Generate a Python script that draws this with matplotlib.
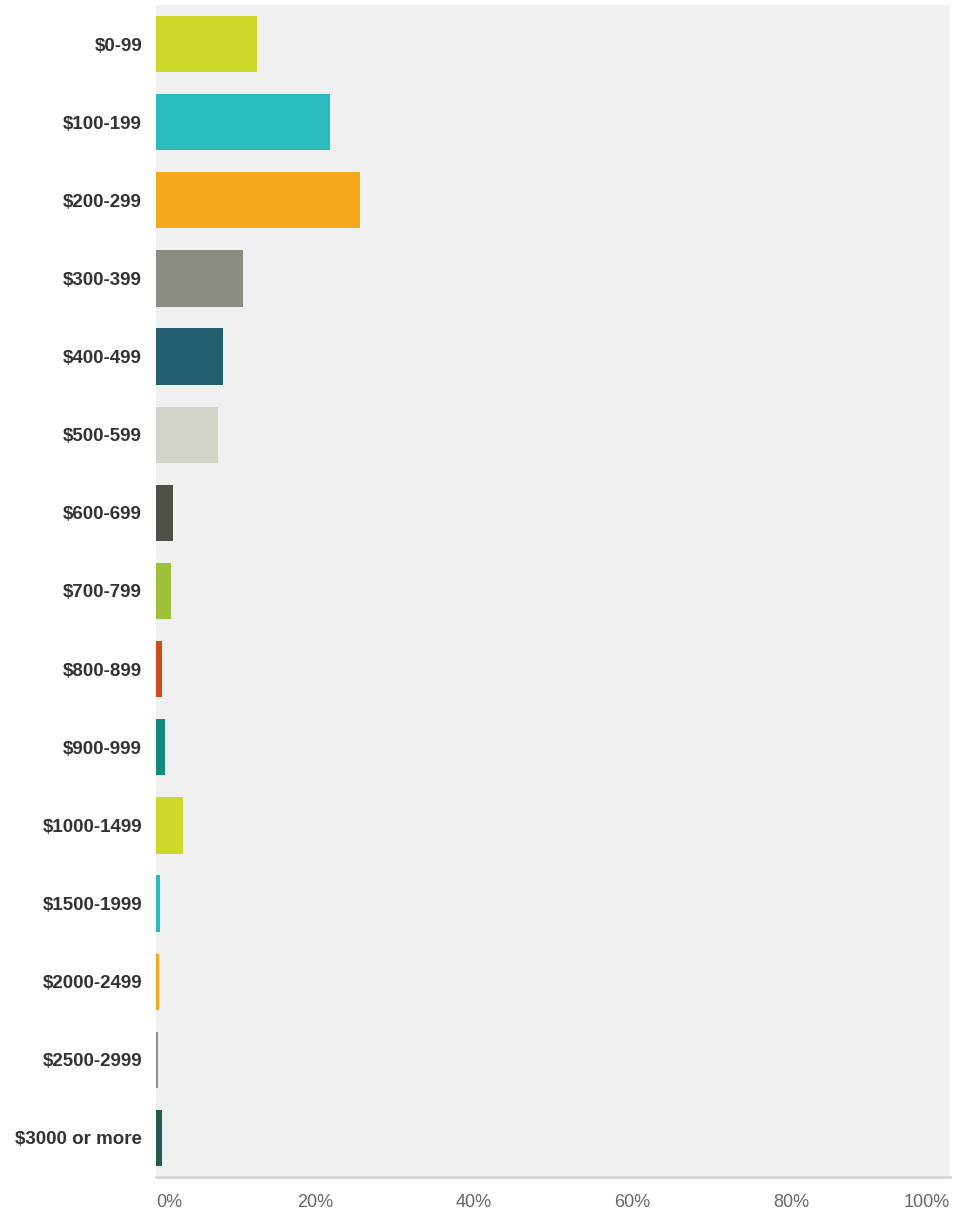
#!/usr/bin/env python3
import matplotlib
import matplotlib.pyplot as plt
from matplotlib.ticker import FuncFormatter

matplotlib.rcParams["font.family"] = ["Liberation Sans", "DejaVu Sans"]

categories = [
    "$0-99", "$100-199", "$200-299", "$300-399", "$400-499",
    "$500-599", "$600-699", "$700-799", "$800-899", "$900-999",
    "$1000-1499", "$1500-1999", "$2000-2499", "$2500-2999", "$3000 or more",
]
percent = [12.7, 21.9, 25.7, 11.0, 8.4, 7.8, 2.1, 1.9, 0.8, 1.1, 3.4, 0.5, 0.4, 0.2, 0.7]
colors = [
    "#cdd829", "#2bbcbf", "#f6a81c", "#8b8d80", "#245f70",
    "#d1d4c6", "#4c5045", "#9fc13a", "#cf4a1d", "#11897f",
    "#cdd829", "#2bbcbf", "#f6a81c", "#8b8d80", "#23594f",
]
xticks = [0, 20, 40, 60, 80, 100]


def main():
    fig = plt.figure(figsize=(9.55, 12.15), dpi=100)
    fig.patch.set_facecolor("white")
    ax = fig.add_axes([156 / 955, 38 / 1215, 794 / 955, 1172 / 1215])
    ax.set_facecolor("#f0f0f0")

    ypos = list(range(len(categories)))
    ax.barh(ypos, percent, height=0.72, color=colors, linewidth=0, zorder=3)

    ax.set_xlim(0, 100)
    ax.set_ylim(len(categories) - 0.5, -0.5)

    ax.set_yticks(ypos)
    ax.set_yticklabels(categories, fontsize=13.5, fontweight="bold", color="#333333")
    ax.tick_params(axis="y", length=0, pad=10)

    ax.set_xticks(xticks)
    ax.xaxis.set_major_formatter(FuncFormatter(lambda v, _: f"{v:.0f}%"))
    ax.tick_params(axis="x", length=0, pad=12, labelsize=13, labelcolor="#666666")
    labels = ax.get_xticklabels()
    labels[0].set_horizontalalignment("left")
    labels[-1].set_horizontalalignment("right")

    for side in ("top", "right", "left"):
        ax.spines[side].set_visible(False)
    ax.spines["bottom"].set_color("#d6d6d6")
    ax.spines["bottom"].set_linewidth(2)

    plt.savefig("out.png", dpi=100)


if __name__ == "__main__":
    main()
